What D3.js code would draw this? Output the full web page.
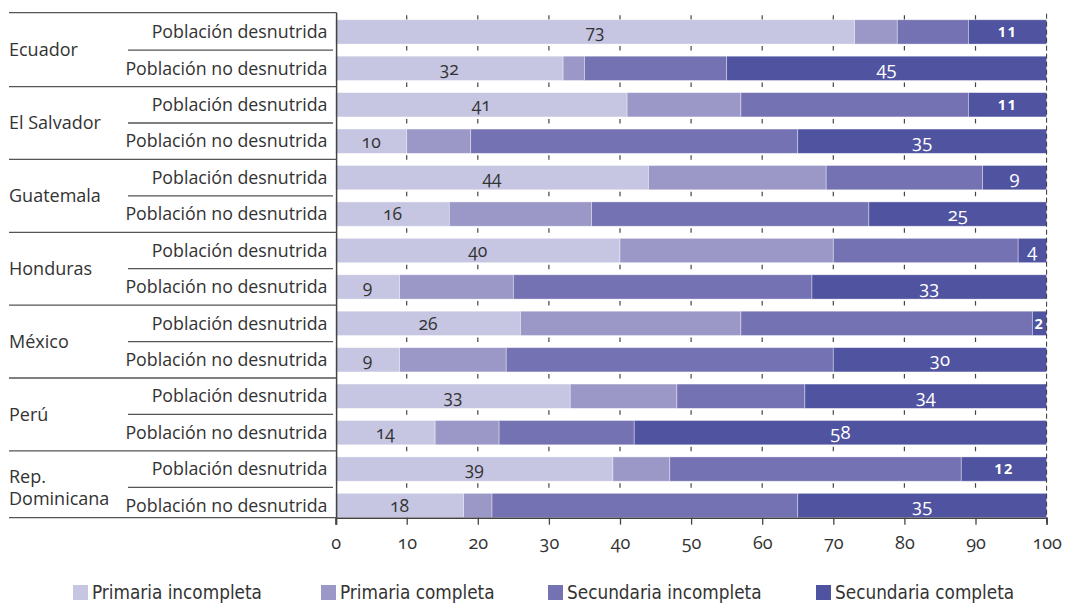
<!DOCTYPE html>
<html>
<head>
<meta charset="utf-8">
<script src="https://cdn.jsdelivr.net/npm/d3@7"></script>
<style>
  html, body { margin: 0; padding: 0; background: #fff; }
  svg { display: block; font-family: "Open Sans", "Noto Sans", sans-serif; }
</style>
</head>
<body>
<svg id="chart" width="1065" height="603"></svg>
<script>
// Countries and the two population groups shown for each one
const countries = ["Ecuador", "El Salvador", "Guatemala", "Honduras", "México", "Perú", "Rep.\nDominicana"];
const groups = ["Población desnutrida", "Población no desnutrida"];

// Education level series (percent of each group)
const seriesNames = ["Primaria incompleta", "Primaria completa", "Secundaria incompleta", "Secundaria completa"];
const primariaIncompleta   = [73, 32, 41, 10, 44, 16, 40,  9, 26,  9, 33, 14, 39, 18];
const primariaCompleta     = [ 6,  3, 16,  9, 25, 20, 30, 16, 31, 15, 15,  9,  8,  4];
const secundariaIncompleta = [10, 20, 32, 46, 22, 39, 26, 42, 41, 46, 18, 19, 41, 43];
const secundariaCompleta   = [11, 45, 11, 35,  9, 25,  4, 33,  2, 30, 34, 58, 12, 35];

// Axis ticks
const xTicks = [0, 10, 20, 30, 40, 50, 60, 70, 80, 90, 100];

const colors = ["#c6c6e2", "#9b98c8", "#7472b2", "#4f53a0"];

// Build one row per country/group pair
const rows = [];
countries.forEach((c, ci) => {
  groups.forEach((g, gi) => {
    const i = ci * 2 + gi;
    rows.push({
      id: i, country: c, group: g,
      "Primaria incompleta": primariaIncompleta[i],
      "Primaria completa": primariaCompleta[i],
      "Secundaria incompleta": secundariaIncompleta[i],
      "Secundaria completa": secundariaCompleta[i]
    });
  });
});

const svg = d3.select("#chart");

const x = d3.scaleLinear().domain([0, 100]).range([335.6, 1046.6]);
const y = d3.scaleBand()
  .domain(rows.map(d => d.id))
  .range([13.7, 13.7 + 14 * 36.43])
  .paddingInner(0.333)
  .paddingOuter(0.1667);

const color = d3.scaleOrdinal().domain(seriesNames).range(colors);
const stack = d3.stack().keys(seriesNames);
const stacked = stack(rows);

const bw = y.bandwidth();
const gap = y.step() - bw;
const axisY = y(rows[rows.length - 1].id) + bw;
const topY = y.range()[0];

// Short grid ticks visible in the gaps between bars
const gapTops = [topY + 1.5].concat(rows.slice(0, -1).map(d => y(d.id) + bw + 2));
const gridG = svg.append("g");
xTicks.filter(t => t > 0 && t < 100).forEach(t => {
  gapTops.forEach(g0 => {
    gridG.append("line")
      .attr("x1", x(t)).attr("x2", x(t))
      .attr("y1", g0).attr("y2", g0 + 4.5)
      .attr("stroke", "#444").attr("stroke-width", 1.2);
  });
});

// Stacked bars
const layers = svg.append("g").selectAll("g")
  .data(stacked).join("g")
  .attr("fill", d => color(d.key));

layers.selectAll("rect")
  .data(d => d.map(v => ({ v, key: d.key })))
  .join("rect")
  .attr("x", d => x(d.v[0]))
  .attr("y", d => y(d.v.data.id))
  .attr("width", d => x(d.v[1]) - x(d.v[0]))
  .attr("height", bw)
  .attr("stroke", "rgba(255,255,255,0.45)")
  .attr("stroke-width", 0.8);

// Dashed line at 100
svg.append("line")
  .attr("x1", x(100)).attr("x2", x(100))
  .attr("y1", topY).attr("y2", axisY + 7)
  .attr("stroke", "#333").attr("stroke-width", 1)
  .attr("stroke-dasharray", "5,3");

// Value labels on the first and last segment of each bar
const labelSeries = [
  { idx: 0, fill: "#333", size: 17.5, shrink: false },
  { idx: 3, fill: "#fff", size: 18.5, shrink: true }
];
labelSeries.forEach(ls => {
  const layer = stacked[ls.idx];
  svg.append("g").selectAll("text")
    .data(layer)
    .join("text")
    .attr("x", d => (x(d[0]) + x(d[1])) / 2)
    .attr("y", d => y(d.data.id) + bw / 2)
    .attr("dy", "0.36em")
    .attr("text-anchor", "middle")
    .attr("fill", ls.fill)
    .each(function (d) {
      const val = d[1] - d[0];
      const small = ls.shrink && ((String(val).length > 1 && val < 15) || val < 3);
      d3.select(this)
        .attr("font-size", small ? 14.5 : ls.size)
        .attr("font-weight", small ? 700 : 400)
        .attr("letter-spacing", small ? 1.5 : 0)
        .style("font-variant-numeric", small ? "lining-nums" : "oldstyle-nums")
        .text(val);
    });
});

// X axis
const xAxis = d3.axisBottom(x).tickValues(xTicks).tickSize(7).tickPadding(12).tickFormat(d3.format("d"));
const ax = svg.append("g").attr("transform", `translate(0,${axisY})`).call(xAxis);
ax.select(".domain").attr("stroke", "#444").attr("stroke-width", 1.5);
ax.selectAll(".tick line").attr("stroke", "#444").attr("stroke-width", 1.3);
ax.selectAll(".tick text")
  .attr("font-size", 18).attr("fill", "#333")
  .attr("font-family", "Open Sans, Noto Sans, sans-serif")
  .style("font-variant-numeric", "oldstyle-nums");

// Left label table
const leftG = svg.append("g");
const axisX = x(0) + 1;
leftG.append("line")
  .attr("x1", axisX).attr("x2", axisX)
  .attr("y1", topY - 1).attr("y2", axisY + 7)
  .attr("stroke", "#444").attr("stroke-width", 1.5);

// Separators above each country block, plus the closing line at the axis
countries.forEach((c, ci) => {
  const first = rows[ci * 2];
  const second = rows[ci * 2 + 1];
  const top = ci === 0 ? topY - 1 : y(first.id) - gap / 2;
  leftG.append("line")
    .attr("x1", 9).attr("x2", axisX)
    .attr("y1", top).attr("y2", top)
    .attr("stroke", "#555").attr("stroke-width", 1.3);
  const mid = y(second.id) - gap / 2;
  leftG.append("line")
    .attr("x1", 128).attr("x2", 333)
    .attr("y1", mid).attr("y2", mid)
    .attr("stroke", "#555").attr("stroke-width", 1.3);

  const lines = c.split("\n");
  const lh = 22;
  const t = leftG.append("text")
    .attr("x", 9)
    .attr("y", mid - (lines.length - 1) * lh / 2)
    .attr("font-size", 18).attr("fill", "#333");
  lines.forEach((ln, li) => {
    t.append("tspan").attr("x", 9).attr("dy", li === 0 ? "0.35em" : lh).text(ln);
  });
});
leftG.append("line")
  .attr("x1", 9).attr("x2", axisX)
  .attr("y1", axisY).attr("y2", axisY)
  .attr("stroke", "#555").attr("stroke-width", 1.3);

// Group labels, right-aligned against the axis
leftG.selectAll("text.grp")
  .data(rows).join("text")
  .attr("class", "grp")
  .attr("x", 327.5)
  .attr("y", d => y(d.id) + bw / 2)
  .attr("dy", "0.35em")
  .attr("text-anchor", "end")
  .attr("font-size", 17.8).attr("fill", "#333")
  .text(d => d.group);

// Legend
const legendX = [73, 321, 548, 816];
const lg = svg.append("g");
seriesNames.forEach((s, i) => {
  lg.append("rect")
    .attr("x", legendX[i]).attr("y", 585)
    .attr("width", 15).attr("height", 15)
    .attr("fill", color(s));
  lg.append("text")
    .attr("x", legendX[i] + 19).attr("y", 599)
    .attr("font-size", 18.8).attr("fill", "#333")
    .attr("font-family", "Liberation Sans Narrow, DejaVu Sans Condensed, sans-serif")
    .text(s);
});
</script>
</body>
</html>
